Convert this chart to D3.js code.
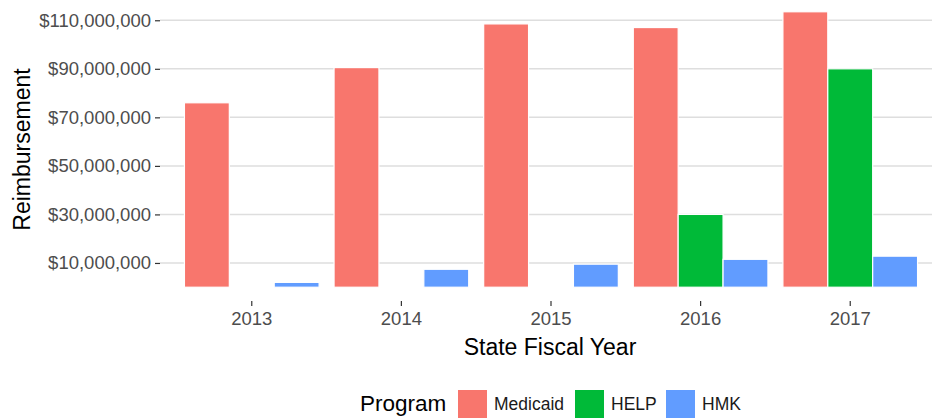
<!DOCTYPE html>
<html>
<head>
<meta charset="utf-8">
<script src="https://cdn.jsdelivr.net/npm/d3@7"></script>
<style>
  body { margin: 0; background: #fff; }
  text { font-family: "Liberation Sans", Arial, sans-serif; }
</style>
</head>
<body>
<div id="chart"></div>
<script>
var width = 932;
var height = 420;
var panel = {top: -2, bottom: 301, left: 160, right: 940};

var years = ["2013", "2014", "2015", "2016", "2017"];
var programs = ["Medicaid", "HELP", "HMK"];
var medicaid = [76e6, 90.5e6, 108.5e6, 107e6, 113.5e6];
var help = [0, 0, 0, 30e6, 90e6];
var hmk = [2e6, 7.4e6, 9.5e6, 11.5e6, 12.8e6];
var yTicks = [10e6, 30e6, 50e6, 70e6, 90e6, 110e6];
var colors = ["#F8766D", "#00BA38", "#619CFF"];

var series = [medicaid, help, hmk];
var data = [];
years.forEach(function(y, i) {
  programs.forEach(function(p, j) {
    data.push({year: y, program: p, value: series[j][i]});
  });
});

var svg = d3.select("#chart")
  .append("svg")
  .attr("width", width)
  .attr("height", height);

var yMax = d3.max(data, function(d) { return d.value; });
var pad = yMax * 0.05;

var yScale = d3.scaleLinear()
  .domain([-pad, yMax + pad])
  .range([panel.bottom, panel.top]);

var xScale = d3.scaleBand()
  .domain(years)
  .range([162, panel.right])
  .paddingInner(0)
  .paddingOuter(0.1);

var xSub = d3.scaleBand()
  .domain(programs)
  .range([xScale.bandwidth() * 0.05, xScale.bandwidth() * 0.95]);

var color = d3.scaleOrdinal().domain(programs).range(colors);

// gridlines
svg.append("g")
  .selectAll("line")
  .data(yTicks)
  .enter()
  .append("line")
    .attr("x1", panel.left)
    .attr("x2", width)
    .attr("y1", function(d) { return yScale(d); })
    .attr("y2", function(d) { return yScale(d); })
    .attr("stroke", "#dedede")
    .attr("stroke-width", 1.5);

// bars
svg.append("g")
  .selectAll("rect")
  .data(data.filter(function(d) { return d.value > 0; }))
  .enter()
  .append("rect")
    .attr("x", function(d) { return xScale(d.year) + xSub(d.program); })
    .attr("y", function(d) { return yScale(d.value); })
    .attr("width", xSub.bandwidth())
    .attr("height", function(d) { return yScale(0) - yScale(d.value); })
    .attr("fill", function(d) { return color(d.program); })
    .attr("stroke", "white")
    .attr("stroke-width", 1.2);

// axes
var fmt = function(d) { return "$" + d3.format(",")(d); };

var yAxis = svg.append("g")
  .attr("transform", `translate(${panel.left},0)`)
  .call(d3.axisLeft(yScale).tickValues(yTicks).tickFormat(fmt).tickSize(5).tickPadding(4));

var xAxis = svg.append("g")
  .attr("transform", `translate(0,${panel.bottom})`)
  .call(d3.axisBottom(xScale).tickSize(5).tickPadding(6));

[xAxis, yAxis].forEach(function(a) {
  a.select(".domain").remove();
  a.selectAll(".tick line").attr("stroke", "#333").attr("stroke-width", 1.2);
  a.selectAll(".tick text")
    .attr("fill", "#4d4d4d")
    .style("font-size", "18.5px");
});

// axis titles
svg.append("text")
  .attr("x", (panel.left + panel.right) / 2)
  .attr("y", 355)
  .attr("text-anchor", "middle")
  .style("font-size", "23px")
  .text("State Fiscal Year");

svg.append("text")
  .attr("transform", `translate(30,${(panel.top + panel.bottom) / 2}) rotate(-90)`)
  .attr("text-anchor", "middle")
  .style("font-size", "23px")
  .text("Reimbursement");

// legend
var legend = svg.append("g").attr("transform", "translate(0,390)");
legend.append("text")
  .attr("x", 360)
  .attr("y", 21)
  .style("font-size", "22.5px")
  .text("Program");

var keyX = [458, 575, 666];
var item = legend.selectAll(".key")
  .data(programs)
  .enter()
  .append("g")
    .attr("transform", function(d, i) { return `translate(${keyX[i]},0)`; });

item.append("rect")
  .attr("width", 29)
  .attr("height", 28)
  .attr("fill", function(d) { return color(d); });

item.append("text")
  .attr("x", 36)
  .attr("y", 20)
  .style("font-size", "17.5px")
  .attr("fill", "#1a1a1a")
  .text(function(d) { return d; });
</script>
</body>
</html>
